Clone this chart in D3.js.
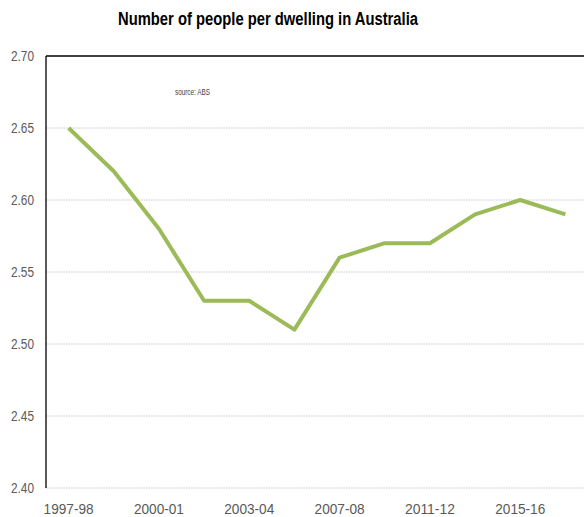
<!DOCTYPE html>
<html>
<head>
<meta charset="utf-8">
<script src="https://cdn.jsdelivr.net/npm/d3@7/dist/d3.min.js"></script>
<style>
  html, body { margin: 0; padding: 0; background: #fff; }
  svg { display: block; }
  text { font-family: "Liberation Sans Narrow", "Arial Narrow", "Liberation Sans", sans-serif; }
</style>
</head>
<body>
<svg id="chart" width="584" height="517"></svg>
<script>
// Survey years (ABS Survey of Income and Housing)
const years = ["1997-98", "1999-00", "2000-01", "2002-03", "2003-04", "2005-06",
               "2007-08", "2009-10", "2011-12", "2013-14", "2015-16", "2017-18"];
// Average number of people per dwelling
const peoplePerDwelling = [2.65, 2.62, 2.58, 2.53, 2.53, 2.51,
                           2.56, 2.57, 2.57, 2.59, 2.60, 2.59];
// Axis ticks
const yTicks = [2.40, 2.45, 2.50, 2.55, 2.60, 2.65, 2.70];
const xTickLabels = ["1997-98", "2000-01", "2003-04", "2007-08", "2011-12", "2015-16"];

const svg = d3.select("#chart");
const plot = { left: 46, right: 588, top: 56, bottom: 488 };

const x = d3.scaleBand().domain(years).range([plot.left, plot.right]);
const y = d3.scaleLinear().domain([2.40, 2.70]).range([plot.bottom, plot.top]);
const cx = d => x(d) + x.bandwidth() / 2;

// Title, set in a condensed width
svg.append("text")
  .attr("x", 268).attr("y", 25)
  .attr("text-anchor", "middle")
  .attr("font-size", 18).attr("font-weight", "bold")
  .attr("fill", "#000")
  .attr("textLength", 300).attr("lengthAdjust", "spacingAndGlyphs")
  .text("Number of people per dwelling in Australia");

// Horizontal gridlines
svg.append("g").selectAll("line")
  .data(yTicks.filter(t => t < 2.70))
  .join("line")
  .attr("x1", plot.left).attr("x2", 584)
  .attr("y1", d => y(d)).attr("y2", d => y(d))
  .attr("stroke", "#c8c8c8").attr("stroke-width", 1)
  .attr("stroke-dasharray", "1.5,1");

// Top border and left axis line
svg.append("line")
  .attr("x1", plot.left).attr("x2", 584)
  .attr("y1", y(2.70)).attr("y2", y(2.70))
  .attr("stroke", "#000").attr("stroke-width", 1.3);
svg.append("line")
  .attr("x1", plot.left).attr("x2", plot.left)
  .attr("y1", y(2.70)).attr("y2", y(2.40))
  .attr("stroke", "#000").attr("stroke-width", 1.3);

// Y axis labels
const yAxis = d3.axisLeft(y).tickValues(yTicks).tickFormat(d3.format(".2f")).tickSize(0).tickPadding(12);
const gy = svg.append("g").attr("transform", `translate(${plot.left},0)`).call(yAxis);
gy.select(".domain").remove();
gy.selectAll("text").attr("font-size", 15).attr("fill", "#595959")
  .attr("textLength", 23).attr("lengthAdjust", "spacingAndGlyphs")
  .attr("font-family", "\"Liberation Sans Narrow\", \"Arial Narrow\", sans-serif");

// X axis labels (every other survey year)
const xAxis = d3.axisBottom(x).tickValues(xTickLabels).tickSize(0).tickPadding(15);
const gx = svg.append("g").attr("transform", `translate(0,${plot.bottom})`).call(xAxis);
gx.select(".domain").remove();
gx.selectAll("text").attr("font-size", 15).attr("fill", "#595959")
  .attr("textLength", 50).attr("lengthAdjust", "spacingAndGlyphs")
  .attr("font-family", "\"Liberation Sans Narrow\", \"Arial Narrow\", sans-serif");

// Source note
svg.append("text")
  .attr("x", 175).attr("y", 95)
  .attr("font-size", 9).attr("fill", "#404040")
  .attr("textLength", 35).attr("lengthAdjust", "spacingAndGlyphs")
  .text("source:  ABS");

// Data line
const line = d3.line()
  .x((d, i) => cx(years[i]))
  .y(d => y(d));
svg.append("path")
  .datum(peoplePerDwelling)
  .attr("d", line)
  .attr("fill", "none")
  .attr("stroke", "#9bbb59")
  .attr("stroke-width", 4)
  .attr("stroke-linejoin", "round");
</script>
</body>
</html>
